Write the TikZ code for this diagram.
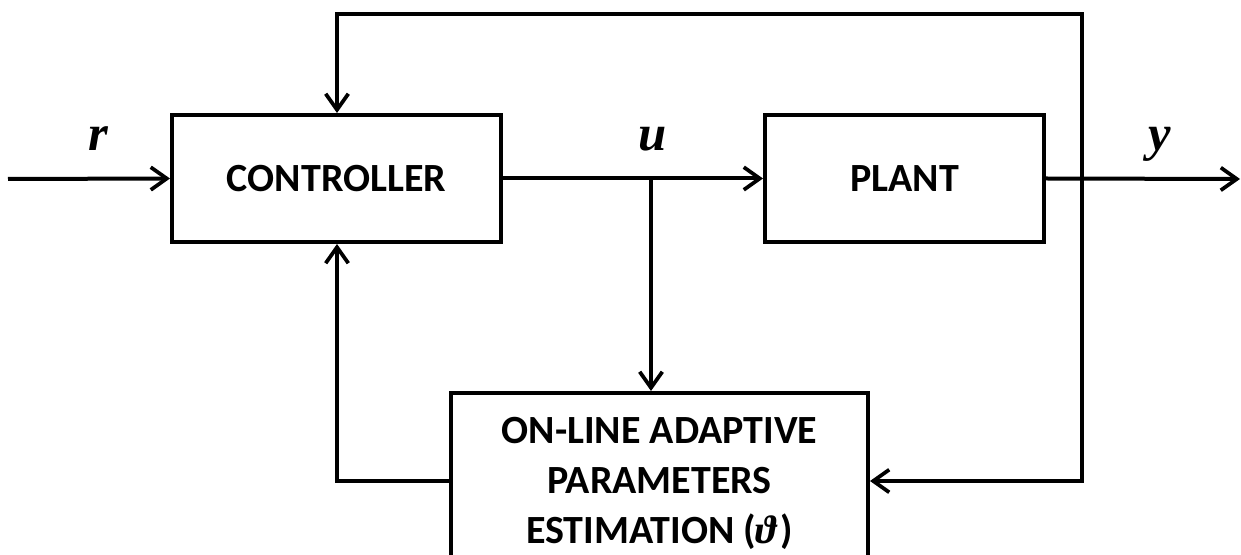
\documentclass[tikz,border=0pt]{standalone}
\usepackage{fontspec}
\setmainfont{Carlito}
\newfontfamily\sigfont{Liberation Serif}
\usetikzlibrary{arrows.meta}
\begin{document}
\begin{tikzpicture}[x=0.75pt,y=-0.75pt,
  line width=3pt,
  blk/.style={draw, line width=3pt, rectangle, inner sep=0pt,
              font=\fontsize{30}{37.5}\selectfont\bfseries, align=center},
  arr/.style={-{Straight Barb[length=12pt,width=17pt,line width=2.8pt]}},
  sig/.style={font=\sigfont\fontsize{38}{40}\selectfont\bfseries\itshape, anchor=base}]
\useasboundingbox (0,0) rectangle (1241,555);
\clip (0,0) rectangle (1241,555);

% blocks
\node[blk, minimum width=246.75pt, minimum height=95.25pt] (ctrl) at (336.5,178.5) {CONTROLLER};
\node[blk, minimum width=209.25pt, minimum height=95.25pt] (plant) at (904.5,178.5) {PLANT};
\node[blk, minimum width=312.75pt, minimum height=135pt] (est) at (659.5,483)
  {ON-LINE ADAPTIVE\\PARAMETERS\\ESTIMATION ({\sigfont\itshape ϑ\kern2.5pt})};

% signal labels
\node[sig] (rlbl) at (98,151) {r};
\node[sig] (ulbl) at (653,151) {u};
\node[sig] (ylbl) at (1160,151) {y};

% helper points
\coordinate (rin) at (8,179);
\coordinate (yout) at (1240,179);
\coordinate (ubr) at (651,179);
\coordinate (tap) at (1082,179);
\coordinate (tr) at (1082,14);
\coordinate (tl) at (337,14);
\coordinate (br) at (1082,481);
\coordinate (bl) at (337,481);

% forward path
\draw[arr] (rin) -- (ctrl.west);
\draw[arr] (ctrl.east) -- (plant.west);
\draw[arr] (plant.east) -- (yout);
\draw[arr] (ubr) -- (ubr |- est.north);

% feedback paths
\draw[arr] (tap) -- (tr) -- (tl) -- (tl |- ctrl.north);
\draw[arr] (tap) -- (br) -- (est.east |- br);
\draw[arr] (est.west |- bl) -- (bl) -- (bl |- ctrl.south);
\end{tikzpicture}
\end{document}
